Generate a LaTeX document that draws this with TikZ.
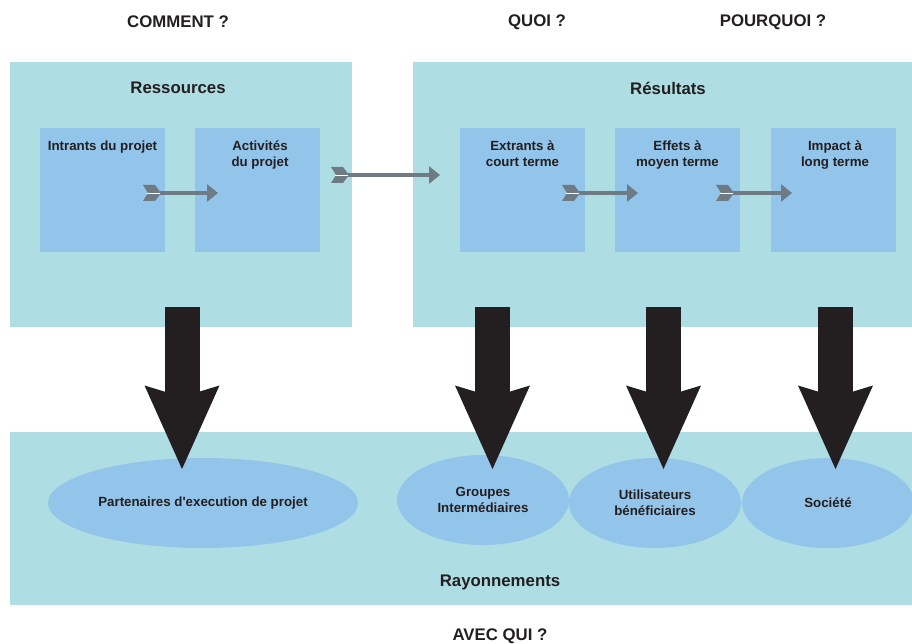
\documentclass[tikz,border=0pt]{standalone}
\usepackage{fontspec}
\setmainfont{Liberation Sans}[Ligatures=TeXOff]
\usetikzlibrary{arrows.meta,shapes.geometric}
\definecolor{panel}{HTML}{AEDEE3}
\definecolor{inner}{HTML}{93C4EA}
\definecolor{agrey}{HTML}{6E7A84}
\definecolor{adark}{HTML}{231F20}
\definecolor{txt}{HTML}{231F20}
\tikzset{
  panelbox/.style={fill=panel, draw=none, inner sep=0pt},
  innerbox/.style={fill=inner, draw=none, minimum width=125pt, minimum height=124pt, inner sep=0pt},
  ell/.style={ellipse, fill=inner, draw=none, inner sep=0pt},
  head/.style={font=\bfseries\fontsize{16.8}{19}\selectfont, text=txt},
  lab/.style={font=\bfseries\fontsize{13.3}{16}\selectfont, text=txt, align=center},
  thin/.style={draw=agrey, line width=4pt, -{Triangle[width=17pt,length=11pt]}},
  big/.style={draw=adark, line width=35pt, -{Stealth[width=70pt,length=82pt,inset=9pt]}},
  chev/.pic={\fill[agrey] (-9,-8) -- (3,-8) -- (9,0) -- (3,8) -- (-9,8) -- (-4,0) -- cycle;
             \draw[white, line width=0.8pt] (-5,0) -- (8,0);}
}
\begin{document}
\begin{tikzpicture}[x=1pt,y=-1pt]
\useasboundingbox (0,0) rectangle (912,644);
% panels
\node[panelbox, minimum width=342pt, minimum height=265pt] (res) at (181,194.5) {};
\node[panelbox, minimum width=499pt, minimum height=265pt] (out) at (662.5,194.5) {};
\node[panelbox, minimum width=902pt, minimum height=173pt] (ray) at (461,518.5) {};
% headings
\node[head] (h1) at (178,22) {COMMENT ?};
\node[head] (h2) at (537,22) {QUOI ?};
\node[head] (h3) at (773,22) {POURQUOI ?};
\node[head] (h4) at (500,636) {AVEC QUI ?};
\node[head] at (178,88) {Ressources};
\node[head] at (668,88) {Résultats};
\node[head] at (500,582) {Rayonnements};
% inner boxes
\node[innerbox] (b1) at (102.5,190) {};
\node[innerbox] (b2) at (257.5,190) {};
\node[innerbox] (b3) at (522.5,190) {};
\node[innerbox] (b4) at (677.5,190) {};
\node[innerbox] (b5) at (833.5,190) {};
\node[lab, anchor=north] at (102.5,137) {Intrants du projet};
\node[lab, anchor=north] at (260,137) {Activités\\du projet};
\node[lab, anchor=north] at (522.5,137) {Extrants à\\court terme};
\node[lab, anchor=north] at (677.5,137) {Effets à\\moyen terme};
\node[lab, anchor=north] at (835,137) {Impact à\\long terme};
% small arrows
\coordinate (s1) at (152,193); \coordinate (e1) at (218,193);
\coordinate (s2) at (340,175); \coordinate (e2) at (440,175);
\coordinate (s3) at (571,193); \coordinate (e3) at (638,193);
\coordinate (s4) at (725,193); \coordinate (e4) at (792,193);
\foreach \s/\e in {s1/e1,s2/e2,s3/e3,s4/e4}{
  \draw[thin] ([xshift=8pt]\s) -- (\e);
  \pic at (\s) {chev};
}
% ellipses
\node[ell, minimum width=310pt, minimum height=90pt] (p1) at (203,503) {};
\node[ell, minimum width=172pt, minimum height=90pt] (p2) at (483,500) {};
\node[ell, minimum width=172pt, minimum height=90pt] (p3) at (655,503) {};
\node[ell, minimum width=172pt, minimum height=90pt] (p4) at (828,503) {};
\node[lab] at (p1) {Partenaires d'execution de projet};
\node[lab] at (p2) {Groupes\\Intermédiaires};
\node[lab] at (p3) {Utilisateurs\\bénéficiaires};
\node[lab] at (p4) {Société};
% big arrows
\coordinate (t1) at (182,307); \coordinate (u1) at (182,470);
\coordinate (t2) at (492.5,307); \coordinate (u2) at (492.5,470);
\coordinate (t3) at (663.5,307); \coordinate (u3) at (663.5,470);
\coordinate (t4) at (835.5,307); \coordinate (u4) at (835.5,470);
\foreach \a/\b in {t1/u1,t2/u2,t3/u3,t4/u4}{
  \draw[big] (\a) -- (\b);
}
\end{tikzpicture}
\end{document}
